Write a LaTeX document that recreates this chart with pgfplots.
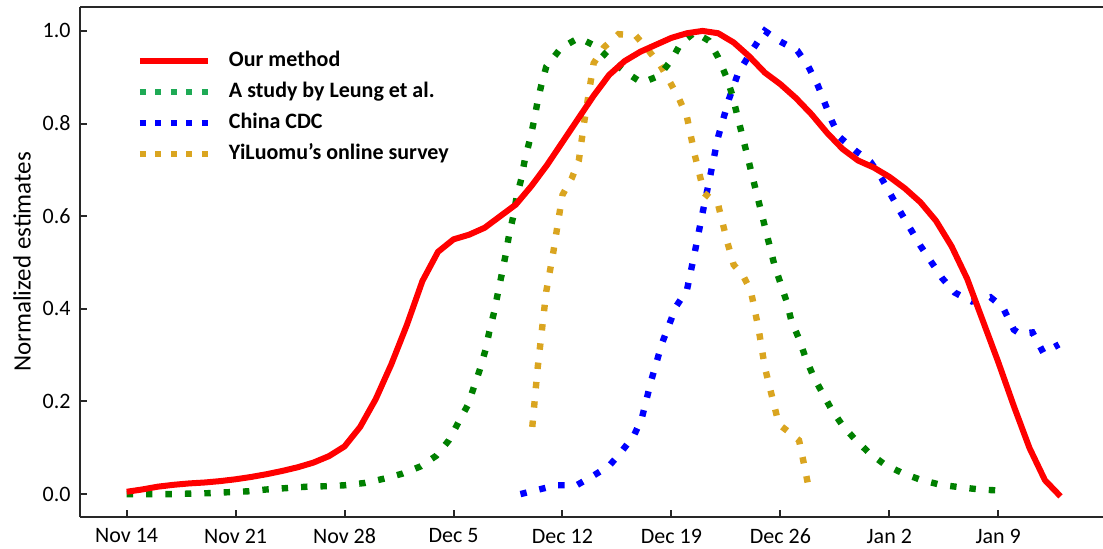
\documentclass[border=0pt]{standalone}
\usepackage{pgfplots}
\pgfplotsset{compat=1.18}
\usepackage{fontspec}
\setmainfont{Carlito}
\definecolor{cred}{RGB}{255,0,0}
\definecolor{cgreen}{RGB}{0,128,0}
\definecolor{cgreenleg}{RGB}{30,170,85}
\definecolor{cblue}{RGB}{0,0,255}
\definecolor{cgold}{RGB}{218,165,32}
\definecolor{spine}{RGB}{40,40,40}
\begin{document}
\begin{tikzpicture}
\begin{axis}[
  at={(0,0)}, anchor=south west,
  scale only axis, width=511.5pt, height=254.7pt,
  xmin=-3, xmax=62.73, ymin=-0.0488, ymax=1.051,
  axis lines=left, axis line style={-, line width=1pt, spine},
  tick align=inside, tick style={line width=1pt, spine}, major tick length=3.5pt,
  xtick={0,7,14,21,28,35,42,49,56},
  xticklabels={Nov 14,Nov 21,Nov 28,Dec 5,Dec 12,Dec 19,Dec 26,Jan 2,Jan 9},
  ytick={0,0.2,0.4,0.6,0.8,1},
  /pgf/number format/assume math mode=true,
  yticklabel style={/pgf/number format/fixed,/pgf/number format/fixed zerofill,/pgf/number format/precision=1, xshift=-1.2pt},
  xticklabel style={yshift=-2.5pt},
  ticklabel style={font=\fontsize{11}{13}\selectfont},
  ylabel={Normalized estimates},
  ylabel style={at={(axis description cs:-0.0567,0.5)}, anchor=center, font=\fontsize{12.5}{14}\selectfont},
  clip=false,
  legend cell align=left,
  legend style={draw=none, fill=none, inner sep=0pt, outer sep=0pt,
    at={(axis description cs:0.0557,0.9124)}, anchor=north west, row sep=6.5pt,
    nodes={inner sep=0pt, text height=7.5pt, text depth=1.5pt, font=\bfseries\fontsize{11}{13}\selectfont}},
  legend image code/.code={\draw[#1] (0pt,0pt) -- (34pt,0pt); \path (43pt,0pt);},
]
\addlegendimage{cred, line width=3pt}
\addlegendentry{Our method}
\addlegendimage{cgreenleg, line width=3pt, dash pattern=on 3pt off 4.75pt}
\addlegendentry{A study by Leung et al.}
\addlegendimage{cblue, line width=3pt, dash pattern=on 3pt off 4.75pt}
\addlegendentry{China CDC}
\addlegendimage{cgold, line width=3pt, dash pattern=on 3pt off 4.75pt}
\addlegendentry{YiLuomu’s online survey}

% China CDC
\addplot[forget plot, cblue, line width=3.2pt, dash pattern=on 3.2pt off 6.5pt] coordinates {
(25.3,0.0) (26.5,0.01) (27.6,0.019) (28.9,0.019) (29.9,0.038) (31.0,0.061) (31.8,0.092) (32.6,0.127)
(33.1,0.164) (33.7,0.245) (34.4,0.326) (35.3,0.405) (36.0,0.441) (36.5,0.522) (37.0,0.607) (37.5,0.688)
(38.0,0.771) (38.7,0.853) (39.3,0.91) (40.3,0.964) (41.0,1.0) (42.0,0.977) (43.1,0.957) (43.8,0.923)
(44.4,0.883) (45.3,0.806) (45.8,0.771) (46.8,0.742) (47.8,0.717) (48.5,0.682) (49.7,0.61) (51.0,0.536)
(52.4,0.466) (53.2,0.435) (54.3,0.416) (55.5,0.425) (56.3,0.403) (57.0,0.355) (57.4,0.346) (58.2,0.349)
(58.9,0.305) (59.9,0.323)
};
% YiLuomu
\addplot[forget plot, cgold, line width=3.2pt, dash pattern=on 3.2pt off 6.5pt] coordinates {
(26.06,0.145) (26.4,0.271) (26.96,0.438) (27.4,0.52) (27.8,0.605) (28.0,0.646) (28.6,0.682) (29.05,0.72)
(29.4,0.804) (29.8,0.888) (30.0,0.93) (30.65,0.964) (31.6,0.993) (32.7,0.99) (33.5,0.959) (34.3,0.925)
(34.9,0.89) (35.5,0.853) (36.0,0.814) (36.5,0.732) (37.1,0.65) (38.0,0.625) (38.6,0.543) (39.0,0.495)
(39.6,0.472) (40.1,0.439) (40.6,0.357) (41.0,0.274) (41.6,0.192) (41.9,0.151) (42.5,0.135) (43.2,0.116)
(43.45,0.076) (43.9,0.0)
};
% Leung
\addplot[forget plot, cgreen, line width=3.2pt, dash pattern=on 3.2pt off 6.5pt] coordinates {
(0,0) (1.5,0) (2.8,0) (4,0.001) (5.3,0.002) (6.5,0.004) (7.8,0.006) (9,0.01) (10.3,0.013) (11.6,0.016)
(12.8,0.017) (14,0.019) (15.3,0.024) (16.5,0.033) (17.7,0.044) (18.9,0.06) (19.9,0.083) (20.7,0.116)
(21.3,0.154) (21.9,0.191) (22.3,0.23) (22.7,0.27) (23.06,0.312) (23.3,0.351) (23.6,0.392) (23.85,0.434)
(24.1,0.475) (24.35,0.517) (24.56,0.558) (24.84,0.6) (25.05,0.641) (25.35,0.68) (25.58,0.722) (25.89,0.763)
(26.16,0.804) (26.38,0.844) (26.64,0.883) (26.96,0.923) (27.9,0.963) (29.05,0.985) (30.2,0.966) (31.1,0.937)
(32.1,0.91) (33.1,0.888) (34.2,0.903) (35.0,0.937) (35.6,0.973) (36.5,0.997) (37.4,0.979) (38.0,0.943)
(38.5,0.903) (38.9,0.863) (39.2,0.822) (39.5,0.781) (39.8,0.741) (40.1,0.70) (40.4,0.659) (40.7,0.619)
(41.0,0.578) (41.3,0.537) (41.6,0.497) (42.0,0.456) (42.4,0.416) (42.7,0.375) (43.2,0.335) (43.6,0.296)
(44.1,0.256) (44.7,0.218) (45.3,0.182) (46.0,0.148) (46.8,0.118) (47.7,0.089) (48.7,0.064) (49.8,0.046)
(51.0,0.031) (52.3,0.02) (53.5,0.015) (54.8,0.01) (55.9,0.008)
};
% Our method
\addplot[forget plot, cred, line width=3pt, line join=round] coordinates {
(0,0.005) (1,0.01) (2,0.016) (3,0.02) (4,0.023) (5,0.025) (6,0.028) (7,0.032) (8,0.037) (9,0.043)
(10,0.05) (11,0.058) (12,0.068) (13,0.082) (14,0.103) (15,0.145) (16,0.205) (17,0.28) (18,0.365) (19,0.46)
(20,0.523) (21,0.55) (22,0.56) (23,0.575) (24,0.6) (25,0.625) (26,0.665) (27,0.71) (28,0.76) (29,0.81)
(30,0.86) (31,0.905) (32,0.935) (33,0.955) (34,0.97) (35,0.985) (36,0.995) (37,1.0) (38,0.995) (39,0.975)
(40,0.945) (41,0.91) (42,0.885) (43,0.855) (44,0.82) (45,0.78) (46,0.745) (47,0.72) (48,0.705) (49,0.685)
(50,0.66) (51,0.63) (52,0.59) (53,0.535) (54,0.465) (55,0.375) (56,0.285) (57,0.19) (58,0.1) (59,0.03)
(60,-0.005)
};
\draw[line width=1pt, spine] (rel axis cs:0,1) -- (rel axis cs:1,1);
\end{axis}
\pgfresetboundingbox
\path[use as bounding box] (-40pt,-16.15pt) rectangle (511.5pt,258.35pt);
\end{tikzpicture}
\end{document}
